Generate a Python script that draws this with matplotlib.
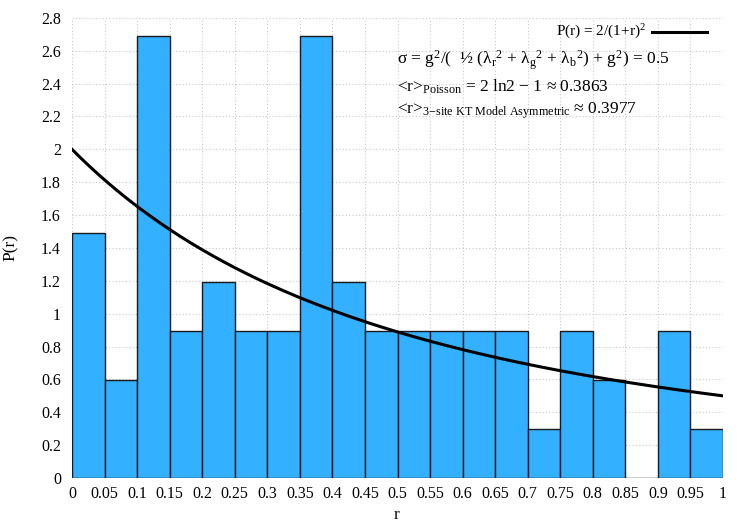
import numpy as np
import matplotlib
matplotlib.use("Agg")
import matplotlib.pyplot as plt

# histogram of r (bin width 0.05), normalised density
bin_edges = [round(0.05 * i, 2) for i in range(21)]
counts = [5, 2, 9, 3, 4, 3, 3, 9, 4, 3, 3, 3, 3, 3, 1, 3, 2, 0, 3, 1]
n_total = 67
bin_width = 0.05
density = [c / (n_total * bin_width) for c in counts]

x_ticks = [round(0.05 * i, 2) for i in range(21)]
y_ticks = [round(0.2 * i, 1) for i in range(15)]

plt.rcParams['font.family'] = ['Liberation Serif', 'DejaVu Serif']
plt.rcParams['mathtext.fontset'] = 'custom'
plt.rcParams['mathtext.rm'] = 'Liberation Serif'
plt.rcParams['mathtext.it'] = 'Liberation Serif:italic'

fig = plt.figure(figsize=(7.5, 5.25), dpi=100)
ax = fig.add_axes([0.096, 0.0895, 0.868, 0.8765])

ax.bar(bin_edges[:-1], density, width=bin_width, align='edge',
       color='#33b0ff', edgecolor='#1a1a1a', linewidth=1.0, zorder=2)

r = np.linspace(0, 1, 300)
ax.plot(r, 2 / (1 + r) ** 2, color='black', lw=2.2, zorder=3)

ax.set_xlim(0, 1)
ax.set_ylim(0, 2.8)
ax.set_xticks(x_ticks)
ax.set_xticklabels([f"{v:g}" for v in x_ticks])
ax.set_yticks(y_ticks)
ax.set_yticklabels([f"{v:g}" for v in y_ticks])
ax.tick_params(length=0, labelsize=11.5, pad=8)
ax.tick_params(axis='x', pad=6)
for s in ax.spines.values():
    s.set_visible(False)
ax.grid(True, color='#c8c8c8', linestyle=(0, (1, 2)), linewidth=0.8, zorder=0)
ax.set_axisbelow(True)

# axis titles placed directly so the bottom one is not clipped
fig.text(0.529, 1 - 519 / 525, "r", ha='center', va='baseline', fontsize=12.5)
ax.set_ylabel("P(r)", fontsize=12.5, labelpad=16)

# legend-like key
ax.text(0.882, 2.715, r"P(r) = 2/(1+r)$^{2}$", ha='right', va='center', fontsize=11)
ax.plot([0.891, 0.975], [2.715, 2.715], color='black', lw=2.2, zorder=3)

ax.text(0.499, 2.545,
        r"σ = g$^2$/(  ½ (λ$_\mathrm{r}$$^2$ + λ$_\mathrm{g}$$^2$ + λ$_\mathrm{b}$$^2$) + g$^2$) = 0.5",
        ha='left', va='center', fontsize=12.5)
ax.text(0.499, 2.38, r"<r>$_\mathrm{Poisson}$ = 2 ln2 − 1 ≈ 0.3863",
        ha='left', va='center', fontsize=12.5)
ax.text(0.499, 2.232, r"<r>$_\mathrm{3{-}site\ KT\ Model\ Asymmetric}$ ≈ 0.3977",
        ha='left', va='center', fontsize=12.5)

fig.savefig("out.png", dpi=100)
